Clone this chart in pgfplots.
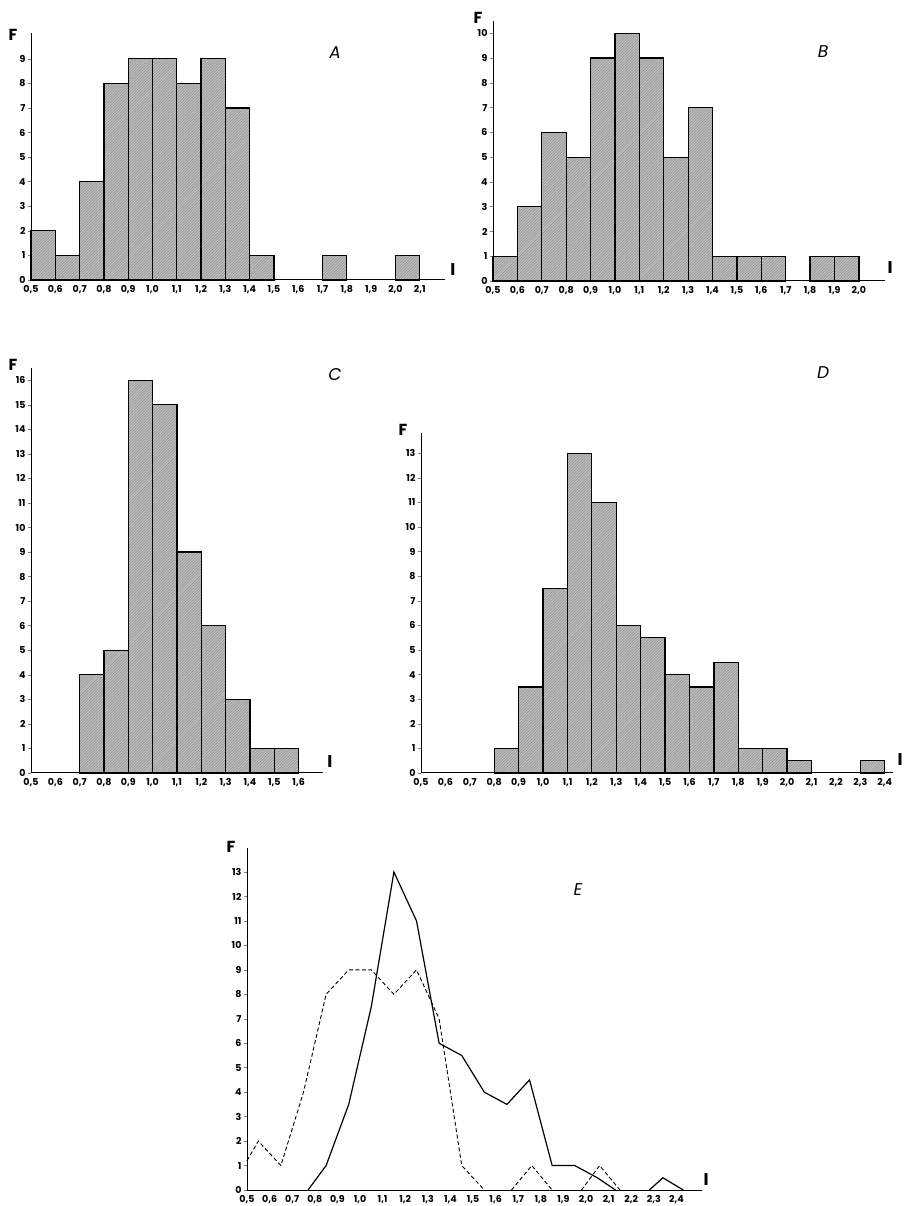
\documentclass[border=0pt]{standalone}
\usepackage{pgfplots}
\pgfplotsset{compat=1.18}
\usepackage{fontspec}
\setmainfont{Poppins}
\usetikzlibrary{patterns.meta}
\definecolor{barfill}{RGB}{188,188,188}
\definecolor{hatch}{RGB}{135,135,135}
\pgfplotsset{
  panel/.style={
    scale only axis, anchor=south west,
    axis lines=left,
    x axis line style={-, line width=1pt},
    y axis line style={-, line width=0.6pt},
    xmin=0.5, ymin=0, enlargelimits=false, clip=false,
    tick align=outside, major tick length=3pt,
    xtick style={draw=none},
    ytick style={line width=0.5pt},
    tick label style={font=\fontsize{9.5}{10}\selectfont\bfseries},
    /pgf/number format/assume math mode=true,
    xticklabel style={yshift=1pt},
    yticklabel style={xshift=1pt},
  },
  bars/.style={
    ybar, bar width=0.1, bar shift=0pt,
    draw=black, line width=1.3pt,
    fill=barfill,
    postaction={pattern={Lines[angle=45,distance=2pt,line width=0.35pt]}, pattern color=hatch},
  },
}
\begin{document}
\begin{tikzpicture}[x=1pt,y=1pt]
\useasboundingbox (0,0) rectangle (903,1206);

% ---------- A ----------
\begin{axis}[panel, at={(31pt,926pt)}, width=414pt, height=247pt,
  xmax=2.204, ymax=10.05, ytick={0,...,9},
  xtick={0.5,0.6,0.7,0.8,0.9,1.0,1.1,1.2,1.3,1.4,1.5,1.6,1.7,1.8,1.9,2.0,2.1},
  xticklabels={{0,5},{0,6},{0,7},{0,8},{0,9},{1,0},{1,1},{1,2},{1,3},{1,4},{1,5},{1,6},{1,7},{1,8},{1,9},{2,0},{2,1}}]
\addplot[bars] coordinates {(0.55,2)(0.65,1)(0.75,4)(0.85,8)(0.95,9)(1.05,9)(1.15,8)(1.25,9)(1.35,7)(1.45,1)(1.75,1)(2.05,1)};
\end{axis}

% ---------- B ----------
\begin{axis}[panel, at={(493pt,925pt)}, width=392pt, height=260pt,
  xmax=2.107, ymax=10.5, ytick={0,...,10},
  xtick={0.5,0.6,0.7,0.8,0.9,1.0,1.1,1.2,1.3,1.4,1.5,1.6,1.7,1.8,1.9,2.0},
  xticklabels={{0,5},{0,6},{0,7},{0,8},{0,9},{1,0},{1,1},{1,2},{1,3},{1,4},{1,5},{1,6},{1,7},{1,8},{1,9},{2,0}}]
\addplot[bars] coordinates {(0.55,1)(0.65,3)(0.75,6)(0.85,5)(0.95,9)(1.05,10)(1.15,9)(1.25,5)(1.35,7)(1.45,1)(1.55,1)(1.65,1)(1.85,1)(1.95,1)};
\end{axis}

% ---------- C ----------
\begin{axis}[panel, at={(31pt,433pt)}, width=292pt, height=405pt,
  xmax=1.70, ymax=16.5, ytick={0,...,16},
  xtick={0.5,0.6,0.7,0.8,0.9,1.0,1.1,1.2,1.3,1.4,1.5,1.6},
  xticklabels={{0,5},{0,6},{0,7},{0,8},{0,9},{1,0},{1,1},{1,2},{1,3},{1,4},{1,5},{1,6}}]
\addplot[bars] coordinates {(0.75,4)(0.85,5)(0.95,16)(1.05,15)(1.15,9)(1.25,6)(1.35,3)(1.45,1)(1.55,1)};
\end{axis}

% ---------- D ----------
\begin{axis}[panel, at={(421pt,433pt)}, width=472pt, height=339.5pt,
  xmax=2.434, ymax=13.8, ytick={0,...,13},
  xtick={0.5,0.6,0.7,0.8,0.9,1.0,1.1,1.2,1.3,1.4,1.5,1.6,1.7,1.8,1.9,2.0,2.1,2.2,2.3,2.4},
  xticklabels={{0,5},{0,6},{0,7},{0,8},{0,9},{1,0},{1,1},{1,2},{1,3},{1,4},{1,5},{1,6},{1,7},{1,8},{1,9},{2,0},{2,1},{2,2},{2,3},{2,4}}]
\addplot[bars] coordinates {(0.85,1)(0.95,3.5)(1.05,7.5)(1.15,13)(1.25,11)(1.35,6)(1.45,5.5)(1.55,4)(1.65,3.5)(1.75,4.5)(1.85,1)(1.95,1)(2.05,0.5)(2.35,0.5)};
\end{axis}

% ---------- E ----------
\begin{axis}[panel, at={(247pt,16pt)}, width=455pt, height=342.4pt,
  xmax=2.513, ymax=14.0, ytick={0,...,13},
  xtick={0.5,0.6,0.7,0.8,0.9,1.0,1.1,1.2,1.3,1.4,1.5,1.6,1.7,1.8,1.9,2.0,2.1,2.2,2.3,2.4},
  xticklabels={{0,5},{0,6},{0,7},{0,8},{0,9},{1,0},{1,1},{1,2},{1,3},{1,4},{1,5},{1,6},{1,7},{1,8},{1,9},{2,0},{2,1},{2,2},{2,3},{2,4}}]
\addplot[black, line width=0.9pt, dash pattern=on 4pt off 2.5pt] coordinates {(0.5,1.2)(0.55,2)(0.65,1)(0.75,4)(0.85,8)(0.95,9)(1.05,9)(1.15,8)(1.25,9)(1.35,7)(1.45,1)(1.55,0)};
\addplot[black, line width=0.9pt, dash pattern=on 4pt off 2.5pt] coordinates {(1.67,0)(1.76,1)(1.85,0)};
\addplot[black, line width=0.9pt, dash pattern=on 4pt off 2.5pt] coordinates {(1.98,0)(2.06,1)(2.15,0)};
\addplot[black, line width=1.2pt] coordinates {(0.77,0)(0.85,1)(0.95,3.5)(1.05,7.5)(1.15,13)(1.25,11)(1.35,6)(1.45,5.5)(1.55,4)(1.65,3.5)(1.75,4.5)(1.85,1)(1.95,1)(2.05,0.5)(2.13,0)};
\addplot[black, line width=1.2pt] coordinates {(2.28,0)(2.34,0.5)(2.43,0)};
\end{axis}

% ---------- labels ----------
\tikzset{Fl/.style={font=\fontsize{16}{16}\selectfont\bfseries},
         Pl/.style={font=\fontsize{17}{17}\selectfont\itshape},
         Il/.style={font=\fontsize{17}{17}\selectfont\bfseries}}
\node[Fl] at (13,1171) {F};
\node[Pl] at (335,1153) {A};
\node[Il] at (453,936) {I};
\node[Fl] at (478,1188) {F};
\node[Pl] at (823,1154) {B};
\node[Il] at (890,938) {I};
\node[Fl] at (13,841) {F};
\node[Pl] at (335,831) {C};
\node[Il] at (330,444) {I};
\node[Fl] at (403,776) {F};
\node[Pl] at (823,833) {D};
\node[Il] at (900,446) {I};
\node[Fl] at (231,359) {F};
\node[Pl] at (578,316) {E};
\node[Il] at (706,26) {I};
\end{tikzpicture}
\end{document}
